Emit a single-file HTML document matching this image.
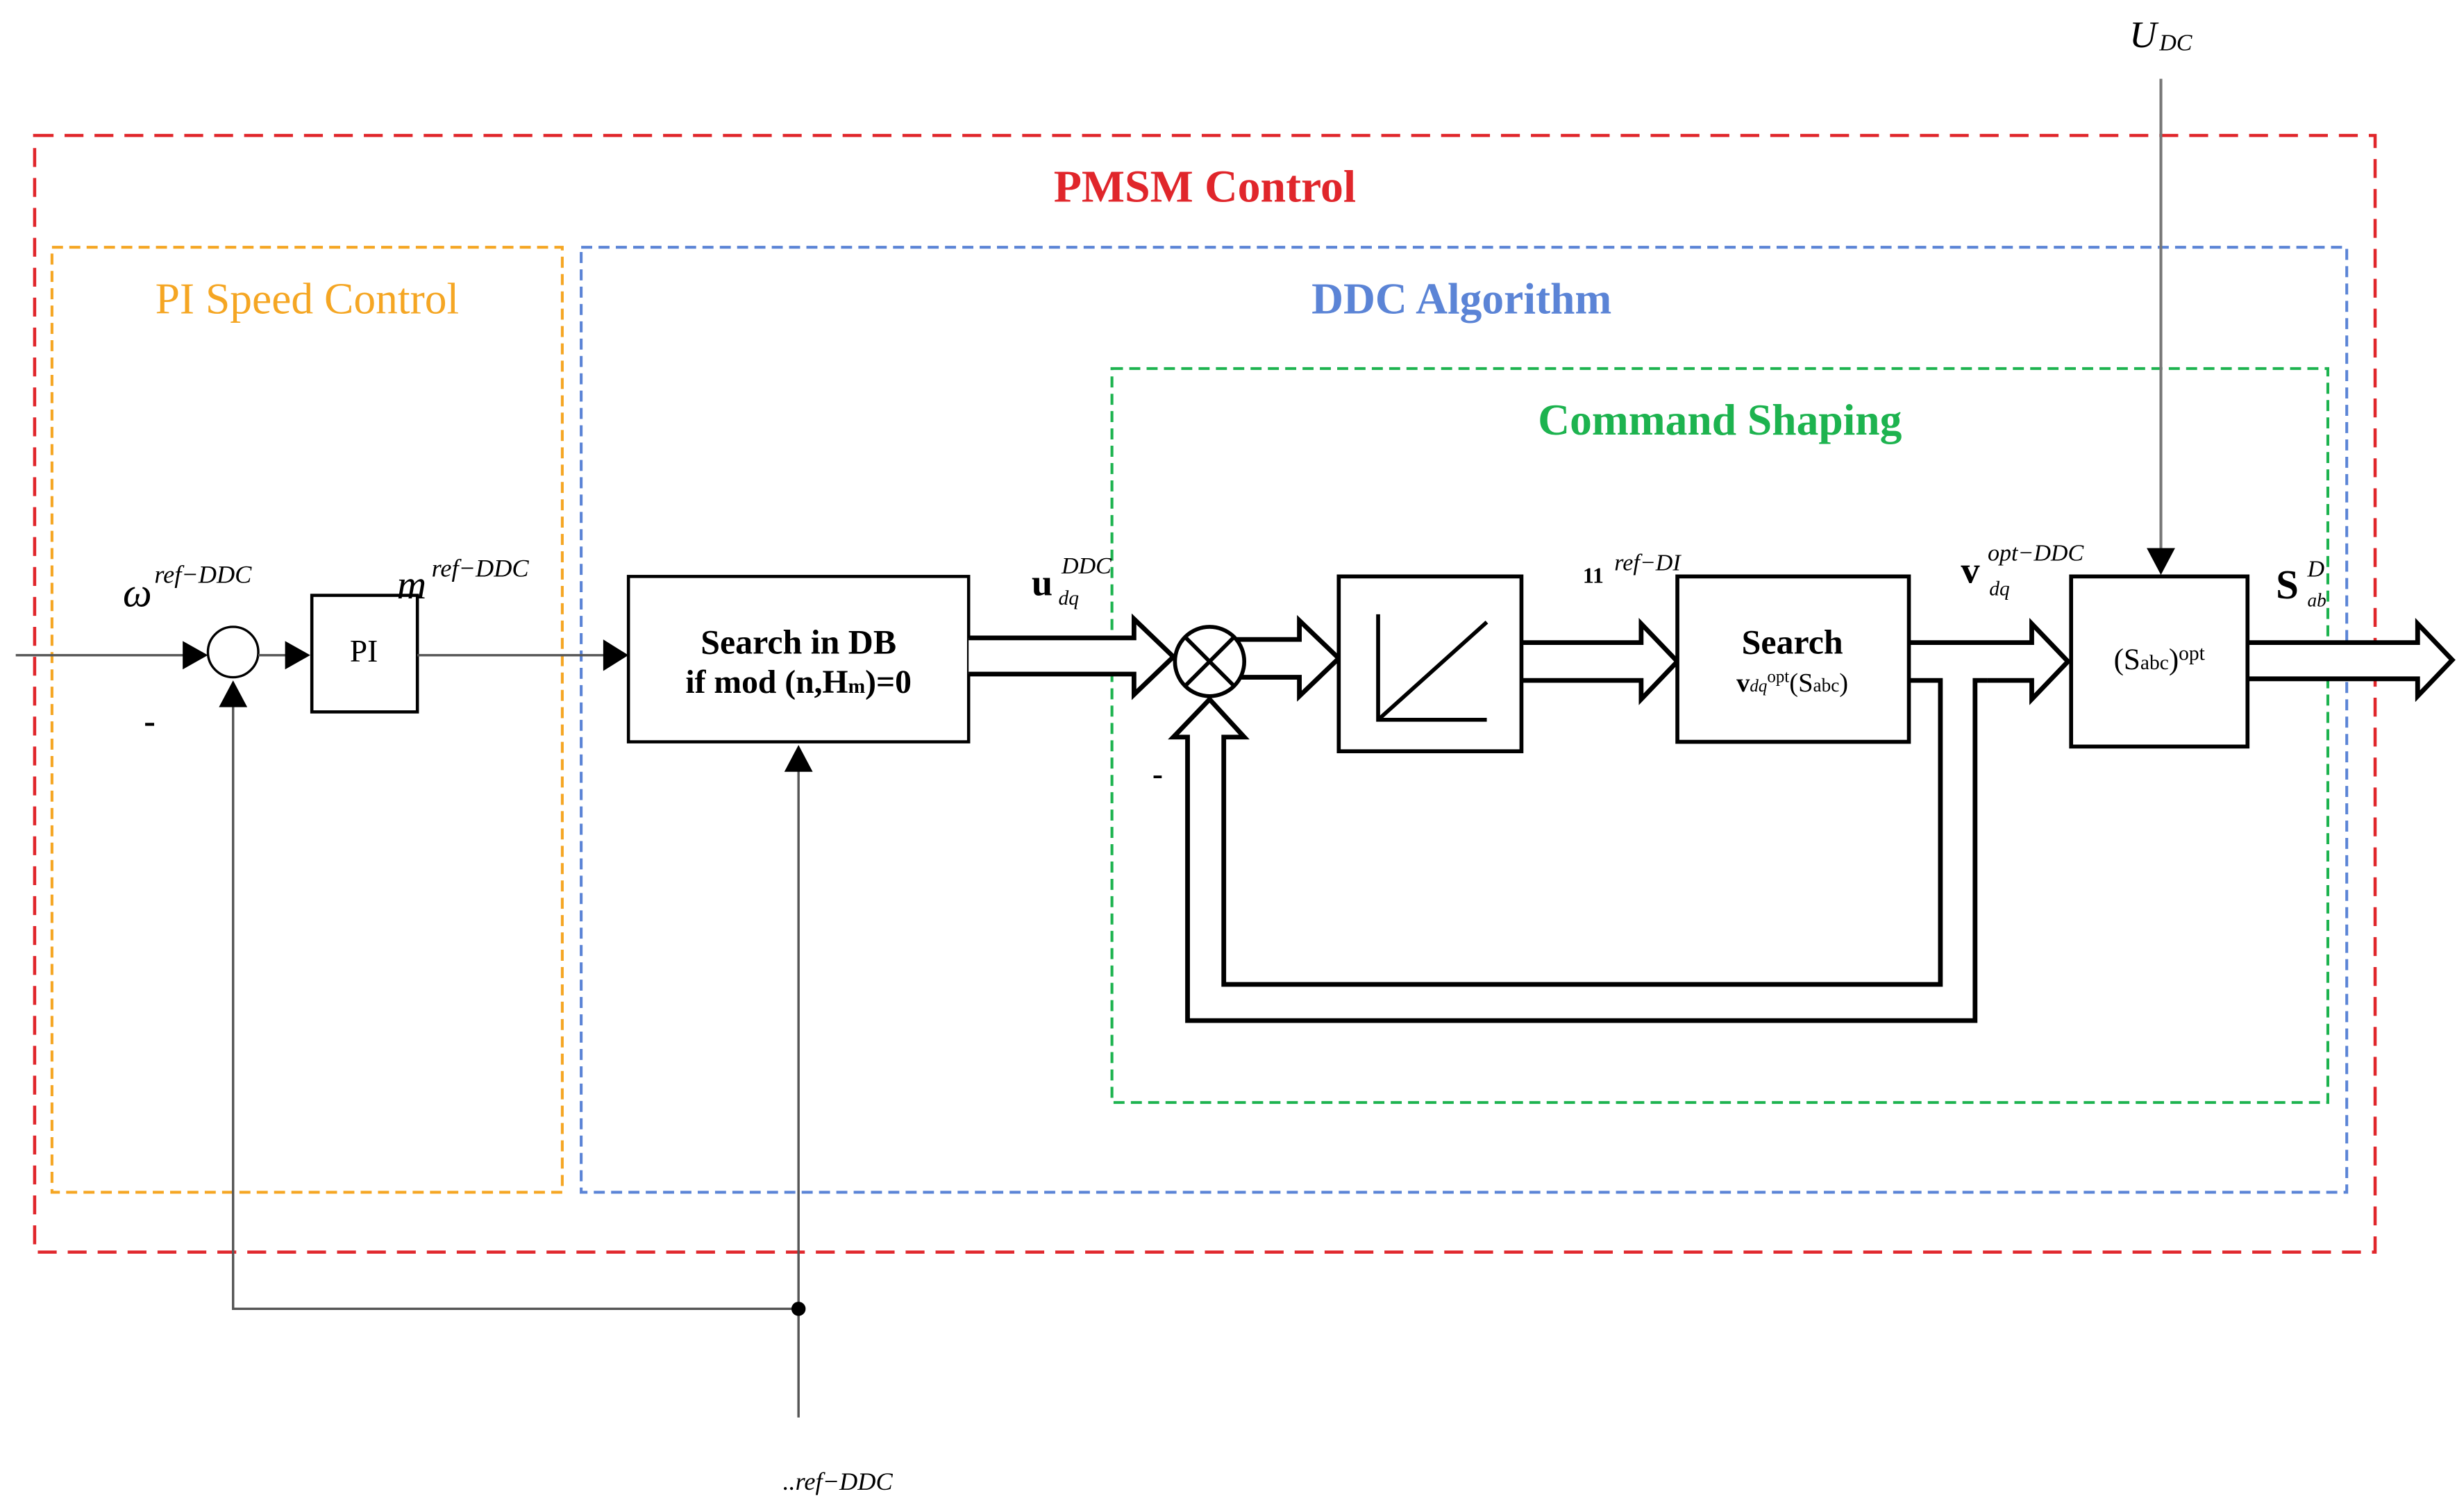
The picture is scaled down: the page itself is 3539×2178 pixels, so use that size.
<!DOCTYPE html>
<html><head><meta charset="utf-8"><style>
html,body{margin:0;padding:0;background:#fff;}
svg{display:block;}
text{font-family:"Liberation Serif",serif;}
</style></head><body>
<svg width="3539" height="2178" viewBox="0 0 1560 960" preserveAspectRatio="none" xmlns="http://www.w3.org/2000/svg">
<!-- group boxes -->
<rect x="22" y="86" width="1486" height="709" fill="none" stroke="#e0262b" stroke-width="2" stroke-dasharray="12,7"/>
<rect x="33" y="157" width="324" height="600" fill="none" stroke="#f5a623" stroke-width="1.8" stroke-dasharray="7,4"/>
<rect x="369" y="157" width="1121" height="600" fill="none" stroke="#5b84d6" stroke-width="1.8" stroke-dasharray="7,4"/>
<rect x="706" y="234" width="772" height="466" fill="none" stroke="#1db34f" stroke-width="1.8" stroke-dasharray="7,4"/>
<text x="765" y="128" font-size="29" font-weight="bold" fill="#e0262b" text-anchor="middle">PMSM Control</text>
<text x="195" y="199" font-size="28" fill="#f5a623" text-anchor="middle">PI Speed Control</text>
<text x="928" y="199" font-size="28" font-weight="bold" fill="#5b84d6" text-anchor="middle">DDC Algorithm</text>
<text x="1092" y="276" font-size="28" font-weight="bold" fill="#1db34f" text-anchor="middle">Command Shaping</text>

<!-- speed loop -->
<line x1="10" y1="416" x2="120" y2="416" stroke="#555" stroke-width="1.5"/>
<polygon points="116,407 132,416 116,425" fill="#000"/>
<circle cx="148" cy="414" r="16" fill="#fff" stroke="#000" stroke-width="1.5"/>
<line x1="164" y1="416" x2="185" y2="416" stroke="#555" stroke-width="1.5"/>
<polygon points="181,407 197,416 181,425" fill="#000"/>
<rect x="198" y="378" width="67" height="74" fill="#fff" stroke="#000" stroke-width="2"/>
<text x="231" y="420" font-size="20" text-anchor="middle">PI</text>
<line x1="265" y1="416" x2="385" y2="416" stroke="#555" stroke-width="1.5"/>
<polygon points="383,406 399,416 383,426" fill="#000"/>
<rect x="399" y="366" width="216" height="105" fill="#fff" stroke="#000" stroke-width="2"/>
<text x="507" y="415" font-size="22" font-weight="bold" text-anchor="middle">Search in DB</text>
<text x="507" y="440" font-size="21" font-weight="bold" text-anchor="middle">if mod (n,H<tspan font-size="13">m</tspan>)=0</text>
<polyline points="507,900 507,488" fill="none" stroke="#555" stroke-width="1.5"/>
<polygon points="498,490 507,473 516,490" fill="#000"/>
<polyline points="507,831 148,831 148,447" fill="none" stroke="#555" stroke-width="1.5"/>
<polygon points="139,449 148,432 157,449" fill="#000"/>
<circle cx="507" cy="831" r="4.5" fill="#000"/>
<text x="95" y="465" font-size="22" font-weight="bold" text-anchor="middle">-</text>

<!-- labels -->
<text x="78" y="385" font-size="26" font-style="italic">ω</text>
<text x="98" y="370" font-size="16" font-style="italic">ref−DDC</text>
<text x="252" y="380" font-size="26" font-style="italic">m</text>
<text x="274" y="366" font-size="16" font-style="italic">ref−DDC</text>
<text x="655" y="378" font-size="24" font-weight="bold">u</text>
<text x="674" y="364" font-size="15" font-style="italic">DDC</text>
<text x="672" y="384" font-size="13" font-style="italic">dq</text>
<text x="1005" y="370" font-size="14" font-weight="bold">11</text>
<text x="1025" y="362" font-size="15" font-style="italic">ref−DI</text>
<text x="1245" y="370" font-size="24" font-weight="bold">v</text>
<text x="1262" y="356" font-size="15" font-style="italic">opt−DDC</text>
<text x="1263" y="378" font-size="13" font-style="italic">dq</text>
<text x="1445" y="380" font-size="26" font-weight="bold">S</text>
<text x="1465" y="366" font-size="15" font-style="italic">D</text>
<text x="1465" y="385" font-size="12" font-style="italic">ab</text>
<text x="1352" y="30" font-size="24" font-style="italic">U</text>
<text x="1371" y="32" font-size="15" font-style="italic">DC</text>
<text x="497" y="946" font-size="16" font-style="italic">..ref−DDC</text>
<text x="735" y="498" font-size="20" font-weight="bold" text-anchor="middle">-</text>

<!-- Udc line -->
<line x1="1372" y1="50" x2="1372" y2="350" stroke="#777" stroke-width="1.8"/>
<polygon points="1363,348 1372,365 1381,348" fill="#000"/>

<!-- double arrows -->
<g fill="#fff" stroke="#000" stroke-width="3" stroke-linejoin="miter">
<path d="M615,405 L720,405 L720,393 L745,417 L720,441 L720,428 L615,428"/>
<path d="M785,406 L825,406 L825,394 L850,418 L825,442 L825,430 L785,430"/>
<path d="M966,408 L1042,408 L1042,396 L1065,420 L1042,444 L1042,432 L966,432"/>
<path d="M1212,408 L1290,408 L1290,396 L1313,420 L1290,444 L1290,432 L1262,432"/>
<path d="M1427,408 L1535,408 L1535,396 L1557,419 L1535,442 L1535,431 L1427,431"/>
<!-- feedback -->
<path d="M1212,432 L1232,432 L1232,625 L777,625 L777,468 L790,468 L768,444 L745,468 L754,468 L754,648 L1254,648 L1254,432 L1262,432" fill="none"/>
</g>
<circle cx="768" cy="420" r="22" fill="#fff" stroke="#000" stroke-width="2.5"/>
<line x1="752" y1="404" x2="784" y2="436" stroke="#000" stroke-width="2.5"/>
<line x1="784" y1="404" x2="752" y2="436" stroke="#000" stroke-width="2.5"/>

<!-- ramp box -->
<rect x="850" y="366" width="116" height="111" fill="#fff" stroke="#000" stroke-width="2.5"/>
<polyline points="875,390 875,457 944,457" fill="none" stroke="#000" stroke-width="2.5"/>
<line x1="875" y1="457" x2="944" y2="395" stroke="#000" stroke-width="2.5"/>

<!-- search box 2 -->
<rect x="1065" y="366" width="147" height="105" fill="#fff" stroke="#000" stroke-width="2.5"/>
<text x="1138" y="415" font-size="22" font-weight="bold" text-anchor="middle">Search</text>
<text x="1138" y="439" font-size="17" text-anchor="middle"><tspan font-weight="bold">v</tspan><tspan font-size="11" font-style="italic">dq</tspan><tspan font-size="11" dy="-6">opt</tspan><tspan dy="6">(S</tspan><tspan font-size="12">abc</tspan>)</text>

<!-- Sabc opt -->
<rect x="1315" y="366" width="112" height="108" fill="#fff" stroke="#000" stroke-width="2.5"/>
<text x="1371" y="425" font-size="19" text-anchor="middle">(S<tspan font-size="13">abc</tspan>)<tspan font-size="13" dy="-6">opt</tspan></text>
</svg>
</body></html>
